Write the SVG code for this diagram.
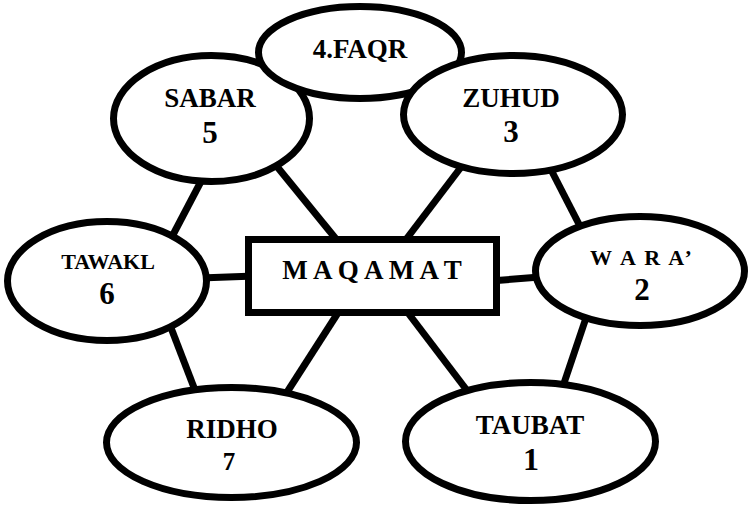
<svg xmlns="http://www.w3.org/2000/svg" width="748" height="511" viewBox="0 0 748 511">
  <style>
    .link { stroke: #000; stroke-width: 7; stroke-linecap: butt; }
    .node { fill: #fff; stroke: #000; stroke-width: 7; }
    .label { font-family: "Liberation Serif", "Times New Roman", serif; font-weight: bold; fill: #000; text-anchor: middle; }
    .name { font-size: 27px; }
    .small { font-size: 22px; }
    .num { font-size: 31px; }
  </style>
  <rect width="748" height="511" fill="#fff"/>

  <!-- connectors: drawn first so the nodes cover their ends -->
  <g id="connectors">
    <line class="link" x1="207" y1="170" x2="165" y2="250"/>
    <line class="link" x1="270" y1="158" x2="345" y2="250"/>
    <line class="link" x1="468" y1="158" x2="398" y2="250"/>
    <line class="link" x1="546" y1="160" x2="583" y2="232"/>
    <line class="link" x1="200" y1="278" x2="255" y2="276"/>
    <line class="link" x1="168" y1="320" x2="198" y2="398"/>
    <line class="link" x1="343" y1="305" x2="282" y2="400"/>
    <line class="link" x1="490" y1="281" x2="540" y2="277"/>
    <line class="link" x1="402" y1="305" x2="472" y2="397"/>
    <line class="link" x1="588" y1="312" x2="560" y2="395"/>
  </g>

  <g id="sabar">
    <ellipse class="node" cx="211.5" cy="118.5" rx="98" ry="63"/>
    <text class="label name" x="210" y="107">SABAR</text>
    <text class="label num" x="210" y="143">5</text>
  </g>

  <g id="faqr">
    <ellipse class="node" cx="360" cy="52.5" rx="101.5" ry="46"/>
    <text class="label name" x="360" y="58">4.FAQR</text>
  </g>

  <g id="zuhud">
    <ellipse class="node" cx="513" cy="114.5" rx="109.5" ry="59"/>
    <text class="label name" x="511" y="107">ZUHUD</text>
    <text class="label num" x="511" y="142">3</text>
  </g>

  <g id="tawakl">
    <ellipse class="node" cx="107" cy="281" rx="99.5" ry="59.5"/>
    <text class="label small" x="108" y="269">TAWAKL</text>
    <text class="label num" x="107" y="304">6</text>
  </g>

  <g id="wara">
    <ellipse class="node" cx="640" cy="271" rx="104.5" ry="54.5"/>
    <text class="label small" x="642" y="265" letter-spacing="2">W A R A’</text>
    <text class="label num" x="642" y="300">2</text>
  </g>

  <g id="ridho">
    <ellipse class="node" cx="231.5" cy="442.5" rx="125" ry="55"/>
    <text class="label name" x="232" y="438">RIDHO</text>
    <text class="label" x="229" y="470" font-size="25">7</text>
  </g>

  <g id="taubat">
    <ellipse class="node" cx="530.5" cy="441.5" rx="125" ry="59"/>
    <text class="label name" x="530" y="434">TAUBAT</text>
    <text class="label" x="531" y="470" font-size="32">1</text>
  </g>

  <g id="maqamat">
    <rect class="node" x="248.5" y="239.5" width="248" height="73"/>
    <text class="label name" x="372" y="279">M A Q A M A T</text>
  </g>
</svg>
